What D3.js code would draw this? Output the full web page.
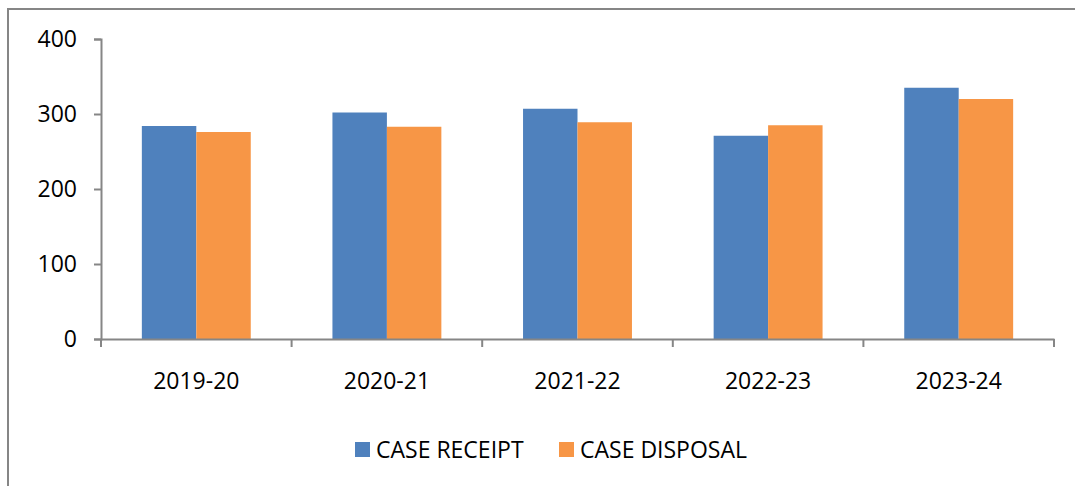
<!DOCTYPE html>
<html>
<head>
<meta charset="utf-8">
<script src="https://cdn.jsdelivr.net/npm/d3@7"></script>
<style>
  body { margin: 0; background: #fff; }
  svg { display: block; font-family: "Open Sans", sans-serif; }
</style>
</head>
<body>
<div id="chart"></div>
<script>
// chart data
const years = ["2019-20", "2020-21", "2021-22", "2022-23", "2023-24"];
const receipt = [284, 302, 307, 271, 335];
const disposal = [276, 283, 289, 285, 320];
const seriesNames = ["CASE RECEIPT", "CASE DISPOSAL"];
const yTicks = [0, 100, 200, 300, 400];

function drawChart() {
  const width = 1075;
  const height = 486;
  const colors = ["#4f81bd", "#f79646"];
  const axisColor = "#868686";

  const svg = d3.select("#chart").append("svg")
      .attr("width", width)
      .attr("height", height);

  // outer frame (clipped on the right / bottom like the picture)
  svg.append("rect")
      .attr("x", 8).attr("y", 9)
      .attr("width", width + 20).attr("height", height + 20)
      .attr("fill", "none")
      .attr("stroke", axisColor)
      .attr("stroke-width", 2);

  const x = d3.scaleBand().domain(years).range([101, 1054]);
  const inner = d3.scaleBand().domain([0, 1]).range([0, x.bandwidth()]).paddingOuter(0.75);
  const y = d3.scaleLinear().domain([0, 400]).range([339, 39]);

  const series = [receipt, disposal];

  // bars
  series.forEach((vals, s) => {
    svg.append("g")
      .selectAll("rect")
      .data(vals)
      .join("rect")
        .attr("x", (d, i) => x(years[i]) + inner(s))
        .attr("y", d => y(d))
        .attr("width", inner.bandwidth())
        .attr("height", d => y(0) - y(d))
        .attr("fill", colors[s]);
  });

  // y axis
  const yAxis = svg.append("g")
      .attr("transform", "translate(101,0)")
      .call(d3.axisLeft(y).tickValues(yTicks).tickSize(7).tickPadding(17).tickFormat(d3.format("d")));
  yAxis.select(".domain").attr("stroke", axisColor).attr("stroke-width", 2);
  yAxis.selectAll(".tick line").attr("stroke", axisColor).attr("stroke-width", 2);
  yAxis.selectAll(".tick text")
      .attr("fill", "#000")
      .style("font-size", "23px")
      .style("font-family", "'Open Sans', sans-serif");

  // x axis
  const xAxis = svg.append("g")
      .attr("transform", `translate(0,${y(0)})`)
      .call(d3.axisBottom(x).tickSize(0).tickPadding(0));
  xAxis.select(".domain").attr("stroke", axisColor).attr("stroke-width", 2);
  xAxis.selectAll(".tick text")
      .attr("y", 50)
      .attr("dy", 0)
      .attr("fill", "#000")
      .style("font-size", "23px")
      .style("font-family", "'Open Sans', sans-serif");

  // category boundary ticks
  const bounds = years.map(d => x(d)).concat([x.range()[1]]);
  svg.append("g")
    .selectAll("line")
    .data(bounds)
    .join("line")
      .attr("x1", d => d).attr("x2", d => d)
      .attr("y1", y(0)).attr("y2", y(0) + 8)
      .attr("stroke", axisColor)
      .attr("stroke-width", 2);

  // legend
  const legendX = [355, 559];
  const legend = svg.append("g")
    .selectAll("g")
    .data(seriesNames)
    .join("g")
      .attr("transform", (d, i) => `translate(${legendX[i]},442)`);
  legend.append("rect")
      .attr("width", 15).attr("height", 15)
      .attr("fill", (d, i) => colors[i]);
  legend.append("text")
      .attr("x", 21).attr("y", 16)
      .attr("fill", "#000")
      .style("font-size", "23px")
      .text(d => d);
}

drawChart();
</script>
</body>
</html>
